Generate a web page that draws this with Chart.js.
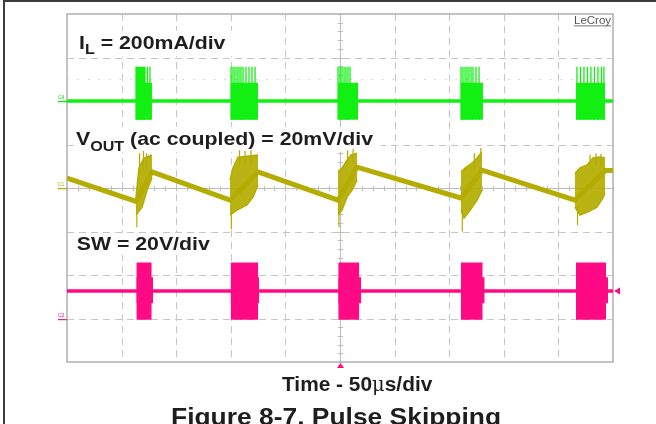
<!DOCTYPE html>
<html>
<head>
<meta charset="utf-8">
<script src="https://cdn.jsdelivr.net/npm/chart.js@4.4.1/dist/chart.umd.min.js"></script>
<style>
  html, body { margin: 0; padding: 0; background: #ffffff; }
  #wrap { width: 656px; height: 424px; position: relative; }
</style>
</head>
<body>
<div id="wrap"><canvas id="c" width="656" height="424"></canvas></div>
<script>
// ---------- axis / grid values (time in µs, vertical in screen divisions) ----------
const timeMin = 0, timeMax = 500, timeCenter = 250;
const divMin = -4, divMax = 4;
const xGridValues = [0, 50, 100, 150, 200, 250, 300, 350, 400, 450, 500];
const yGridValues = [-4, -3, -2, -1, 0, 1, 2, 3, 4];

// ---------- switching bursts (µs) ----------
const burstStart = [63.2, 150.0, 248.2, 360.8, 466.1];
const burstEnd   = [77.8, 174.9, 266.5, 380.9, 492.7];

// ---------- I_L trace (green), divisions ----------
const ilBase = 2.0;
const ilBandLow = 1.57;
const ilBandHigh = 2.42;
const ilSpikeTop = 2.79;
const ilSpikes = [
  [63.2, 64.4, 65.6, 66.8, 68.0, 69.2, 70.4, 71.4, 73.7, 76.0],
  [150.2, 152.0, 153.8, 155.7, 157.5, 159.3, 161.2, 163.9, 166.7, 169.4, 172.2],
  [248.2, 250.0, 251.8, 253.7, 255.5, 257.3, 259.2],
  [360.8, 362.6, 364.5, 366.3, 368.1, 370.0, 371.8, 374.5, 377.3],
  [467.0, 470.2, 473.4, 476.6, 479.8, 483.0, 486.2, 489.5, 491.7]
];

// ---------- V_OUT trace (olive), divisions ----------
const voutRampT = [0, 63.2, 77.8, 149.3, 174.9, 248.2, 265.6, 360.8, 380.0, 465.2, 492.7, 500];
const voutRampV = [0.23, -0.31, 0.37, -0.28, 0.37, -0.28, 0.48, -0.23, 0.41, -0.28, 0.40, 0.40];
const voutTopT = [
  [63.2, 65.9, 70.5, 77.8],
  [149.3, 152.0, 156.6, 174.9],
  [248.2, 251.8, 256.4, 260.1, 265.6],
  [360.8, 364.5, 370.9, 375.5, 380.0],
  [465.2, 469.8, 476.2, 481.7, 488.1, 492.7]
];
const voutTopV = [
  [-0.21, 0.46, 0.69, 0.76],
  [0.18, 0.46, 0.71, 0.76],
  [0.37, 0.46, 0.64, 0.76, 0.80],
  [0.37, 0.46, 0.57, 0.69, 0.83],
  [0.34, 0.46, 0.53, 0.69, 0.71, 0.69]
];
const voutBotT = [
  [63.2, 68.7, 73.3, 77.8],
  [149.3, 155.7, 164.8, 170.3, 174.9],
  [248.2, 251.8, 256.4, 261.0, 265.6],
  [360.8, 363.6, 369.1, 375.5, 380.0],
  [465.2, 469.8, 477.1, 485.3, 490.8, 492.7]
];
const voutBotV = [
  [-0.62, -0.44, -0.05, 0.23],
  [-0.62, -0.51, -0.39, -0.21, 0.07],
  [-0.62, -0.51, -0.21, -0.05, 0.18],
  [-0.51, -0.69, -0.51, -0.28, -0.05],
  [-0.44, -0.62, -0.55, -0.44, -0.23, -0.11]
];
// thin noise spikes sticking out of the V_OUT bursts: [time, low, high]
const voutSpikes = [
  [66.5, 0.3, 0.80], [70.0, 0.4, 0.85], [73.0, 0.5, 0.80], [64.0, -0.9, -0.4],
  [150.5, -0.95, -0.4], [158.0, 0.5, 0.87], [163.0, 0.5, 0.85], [168.5, 0.5, 0.87],
  [249.0, -0.90, -0.4], [257.0, 0.5, 0.87], [262.0, 0.6, 0.90],
  [362.0, -1.0, -0.5], [373.0, 0.4, 0.80], [379.0, 0.6, 0.92],
  [467.5, -0.85, -0.4], [479.0, 0.5, 0.77], [484.5, 0.5, 0.80], [489.0, 0.5, 0.79]
];

// ---------- SW trace (pink), divisions ----------
const swBase = -2.37;
const swHigh = -1.71;
const swLow = -3.03;
const swStart = [63.5, 149.9, 248.4, 360.8, 466.1];
const swEnd   = [77.6, 175.2, 267.7, 380.7, 493.6];
const swTailEnd = [78.8, 176.0, 269.5, 382.5, 495.5];
const swTailHigh = -2.05, swTailLow = -2.65;

// ---------- channel offset markers ----------
const chanMarks = [
  { label: 'C4', level: 2.0, color: '#10e010' },
  { label: 'C1', level: 0.0, color: '#b4ac00' },
  { label: 'C2', level: -3.0, color: '#ff1a8c' }
];

const GREEN = '#12f012';
const OLIVE = '#b4ac00';
const PINK  = '#ff0a84';

// ---------- build datasets ----------
const datasets = [];

// green baseline
datasets.push({ data: [{x: timeMin, y: ilBase}, {x: timeMax, y: ilBase}],
  borderColor: GREEN, borderWidth: 3.5, fill: false });
// green dense bands
burstStart.forEach((s, i) => {
  datasets.push({ data: [{x: s, y: ilBandHigh}, {x: burstEnd[i], y: ilBandHigh}],
    borderWidth: 0, borderColor: GREEN, backgroundColor: GREEN, fill: { value: ilBandLow } });
});
// green spikes
const ilSpikeData = [];
ilSpikes.forEach(list => list.forEach(t => {
  ilSpikeData.push({x: t, y: ilBandLow}, {x: t, y: ilSpikeTop}, {x: t, y: null});
}));
datasets.push({ data: ilSpikeData, borderColor: GREEN, borderWidth: 1.3, fill: false, spanGaps: false });

// V_OUT ramp
datasets.push({ data: voutRampT.map((t, i) => ({x: t, y: voutRampV[i]})),
  borderColor: OLIVE, borderWidth: 5, fill: false });
// V_OUT burst envelopes (top fills to next dataset = bottom)
voutTopT.forEach((tops, i) => {
  datasets.push({ data: tops.map((t, j) => ({x: t, y: voutTopV[i][j]})),
    borderColor: OLIVE, borderWidth: 1.5, backgroundColor: 'rgba(180,172,0,0.92)', fill: '+1' });
  datasets.push({ data: voutBotT[i].map((t, j) => ({x: t, y: voutBotV[i][j]})),
    borderColor: OLIVE, borderWidth: 1.5, fill: false });
});
const voutSpikeData = [];
voutSpikes.forEach(s => { voutSpikeData.push({x: s[0], y: s[1]}, {x: s[0], y: s[2]}, {x: s[0], y: null}); });
datasets.push({ data: voutSpikeData, borderColor: OLIVE, borderWidth: 1.2, fill: false, spanGaps: false });

// SW baseline
datasets.push({ data: [{x: timeMin, y: swBase}, {x: timeMax, y: swBase}],
  borderColor: PINK, borderWidth: 3.5, fill: false });
// SW bursts (block plus a short ragged tail in the middle of its right edge)
swStart.forEach((s, i) => {
  datasets.push({ data: [{x: s, y: swHigh}, {x: swEnd[i], y: swHigh}],
    borderWidth: 0, borderColor: PINK, backgroundColor: PINK, fill: { value: swLow } });
  datasets.push({ data: [{x: s, y: swTailHigh}, {x: swTailEnd[i], y: swTailHigh}],
    borderWidth: 0, borderColor: PINK, backgroundColor: PINK, fill: { value: swTailLow } });
});

// ---------- helpers ----------
function stretchText(ctx, str, x, y, font, color, sx) {
  ctx.save();
  ctx.font = font;
  ctx.fillStyle = color;
  ctx.textBaseline = 'alphabetic';
  ctx.textAlign = 'left';
  ctx.translate(x, y);
  ctx.scale(sx, 1);
  ctx.fillText(str, 0, 0);
  const w = ctx.measureText(str).width * sx;
  ctx.restore();
  return w;
}
function labelWithSub(ctx, main, sub, rest, x, y, sx) {
  const big = 'bold 18.5px "Liberation Sans", Arial, sans-serif';
  const small = 'bold 14px "Liberation Sans", Arial, sans-serif';
  let cx = x;
  cx += stretchText(ctx, main, cx, y, big, '#1e1e1e', sx);
  if (sub) cx += stretchText(ctx, sub, cx, y + 5.5, small, '#1e1e1e', sx);
  cx += stretchText(ctx, rest, cx, y, big, '#1e1e1e', sx);
  return cx;
}

const scopePlugin = {
  id: 'scope',
  beforeDatasetsDraw(chart) {
    const ctx = chart.ctx;
    const xs = chart.scales.x, ys = chart.scales.y;
    const L = xs.getPixelForValue(timeMin), R = xs.getPixelForValue(timeMax);
    const T = ys.getPixelForValue(divMax), B = ys.getPixelForValue(divMin);
    const cxp = Math.round(xs.getPixelForValue(timeCenter)) + 0.5;
    const cyp = Math.round(ys.getPixelForValue(0)) + 0.5;
    ctx.save();
    // outer frame of the page
    ctx.fillStyle = '#3c3c3c';
    ctx.fillRect(3, 0, 2, 424);
    ctx.fillRect(3, 0, 653, 2);

    // dashed grid
    ctx.strokeStyle = '#c6c6c6';
    ctx.lineWidth = 1;
    ctx.setLineDash([7, 5]);
    xGridValues.forEach(t => {
      if (t === timeMin || t === timeMax || t === timeCenter) return;
      const px = Math.round(xs.getPixelForValue(t)) + 0.5;
      ctx.beginPath(); ctx.moveTo(px, T); ctx.lineTo(px, B); ctx.stroke();
    });
    yGridValues.forEach(v => {
      if (v === divMin || v === divMax || v === 0) return;
      const py = Math.round(ys.getPixelForValue(v)) + 0.5;
      ctx.beginPath(); ctx.moveTo(L, py); ctx.lineTo(R, py); ctx.stroke();
    });
    // faint dotted row
    ctx.strokeStyle = '#cfcfcf';
    ctx.setLineDash([1.5, 9]);
    const pyDot = Math.round(ys.getPixelForValue(2.5)) + 0.5;
    ctx.beginPath(); ctx.moveTo(L, pyDot); ctx.lineTo(R, pyDot); ctx.stroke();
    ctx.setLineDash([]);

    // center cross with minor ticks
    ctx.strokeStyle = '#bcbcbc';
    ctx.beginPath(); ctx.moveTo(cxp, T); ctx.lineTo(cxp, B); ctx.stroke();
    ctx.beginPath(); ctx.moveTo(L, cyp); ctx.lineTo(R, cyp); ctx.stroke();
    ctx.beginPath();
    for (let k = 0; k <= 50; k++) {
      const px = Math.round(L + (R - L) * k / 50) + 0.5;
      ctx.moveTo(px, cyp - 2.5); ctx.lineTo(px, cyp + 2.5);
    }
    for (let k = 0; k <= 40; k++) {
      const py = Math.round(T + (B - T) * k / 40) + 0.5;
      ctx.moveTo(cxp - 2.5, py); ctx.lineTo(cxp + 2.5, py);
    }
    ctx.stroke();

    // plot border
    ctx.strokeStyle = '#b0b0b0';
    ctx.lineWidth = 1.5;
    ctx.strokeRect(L, T, R - L, B - T);

    // LeCroy badge
    const w = stretchText(ctx, 'LeCroy', R - 39, T + 10, '10px "Liberation Sans", Arial, sans-serif', '#555555', 1.15);
    ctx.fillStyle = '#555555';
    ctx.fillRect(R - 39, T + 11.5, w, 0.8);

    // channel offset markers
    chanMarks.forEach(m => {
      const py = ys.getPixelForValue(m.level);
      ctx.fillStyle = m.color;
      ctx.fillRect(L - 9, Math.round(py), 9, 1.2);
      stretchText(ctx, m.label, L - 9, py - 2, '5px "Liberation Sans", Arial, sans-serif', m.color, 1);
    });

    // white boxes behind the trace labels + labels
    ctx.fillStyle = '#ffffff';
    ctx.fillRect(L + 9, 31, 160, 25);
    ctx.fillRect(L + 8, 127, 306, 25);
    ctx.fillRect(L + 8, 233, 142, 22);
    labelWithSub(ctx, 'I', 'L', ' = 200mA/div', 79, 48.5, 1.15);
    labelWithSub(ctx, 'V', 'OUT', ' (ac coupled) = 20mV/div', 76, 145, 1.15);
    labelWithSub(ctx, 'SW = 20V/div', '', '', 76.7, 250, 1.15);

    // trigger / level arrows
    ctx.fillStyle = PINK;
    const pySw = ys.getPixelForValue(swBase);
    ctx.beginPath(); ctx.moveTo(R + 1, pySw); ctx.lineTo(R + 7, pySw - 3.5); ctx.lineTo(R + 7, pySw + 3.5); ctx.closePath(); ctx.fill();
    ctx.beginPath(); ctx.moveTo(cxp, B + 1); ctx.lineTo(cxp - 3.5, B + 6); ctx.lineTo(cxp + 3.5, B + 6); ctx.closePath(); ctx.fill();

    // axis caption and figure title
    let x = 282;
    x += stretchText(ctx, 'Time - 50', x, 391, 'bold 19.5px "Liberation Sans", Arial, sans-serif', '#1e1e1e', 1.07);
    x += stretchText(ctx, 'μ', x, 391, '19.5px "DejaVu Serif", serif', '#1e1e1e', 1.0);
    stretchText(ctx, 's/div', x, 391, 'bold 19.5px "Liberation Sans", Arial, sans-serif', '#1e1e1e', 1.07);
    stretchText(ctx, 'Figure 8-7. Pulse Skipping', 171, 424.5, 'bold 24px "Liberation Sans", Arial, sans-serif', '#1e1e1e', 1.1);
    ctx.restore();
  }
};

new Chart(document.getElementById('c'), {
  type: 'line',
  data: { datasets },
  options: {
    responsive: false,
    animation: false,
    events: [],
    layout: { padding: { left: 67, top: 14, right: 43, bottom: 62 } },
    scales: {
      x: { type: 'linear', min: timeMin, max: timeMax, display: false, offset: false },
      y: { type: 'linear', min: divMin, max: divMax, display: false }
    },
    elements: { point: { radius: 0 }, line: { tension: 0, borderCapStyle: 'butt' } },
    plugins: { legend: { display: false }, tooltip: { enabled: false } }
  },
  plugins: [scopePlugin]
});
</script>
</body>
</html>
